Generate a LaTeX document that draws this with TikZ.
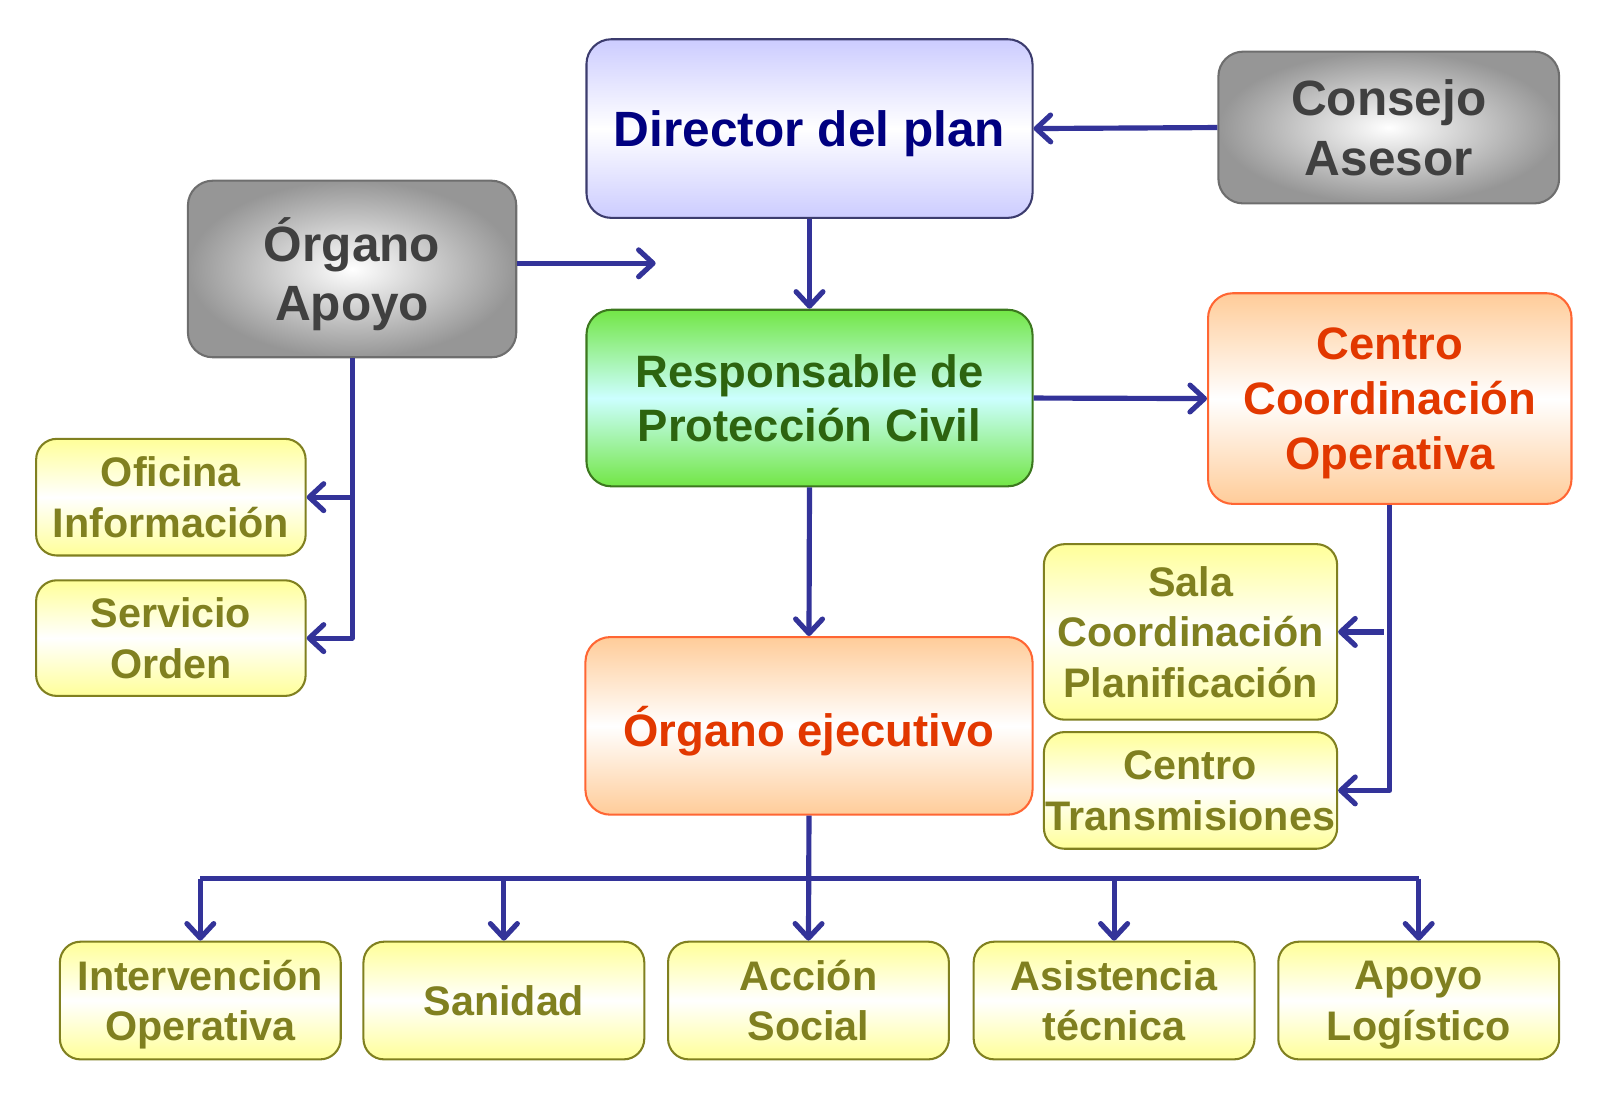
\documentclass[tikz,border=0pt]{standalone}
\usepackage{fontspec}
\setmainfont{Liberation Sans}
\usetikzlibrary{arrows.meta,positioning,calc}

\definecolor{flowblue}{RGB}{51,51,153}
\definecolor{plantext}{RGB}{0,0,128}
\definecolor{planfill}{RGB}{204,204,255}
\definecolor{planline}{RGB}{60,60,110}
\definecolor{greytext}{RGB}{64,64,64}
\definecolor{greyfill}{RGB}{150,150,150}
\definecolor{greyline}{RGB}{110,110,110}
\definecolor{leadtext}{RGB}{45,100,15}
\definecolor{leadfill}{RGB}{115,230,70}
\definecolor{leadmid}{RGB}{204,255,255}
\definecolor{leadline}{RGB}{60,120,30}
\definecolor{optext}{RGB}{226,56,0}
\definecolor{opfill}{RGB}{255,204,153}
\definecolor{opline}{RGB}{255,102,51}
\definecolor{unittext}{RGB}{128,128,32}
\definecolor{unitfill}{RGB}{255,255,153}
\definecolor{unitline}{RGB}{128,128,32}

\tikzset{
  every node/.style={
    align=center,
    inner sep=0pt,
    text depth=0pt
  },
  dims/.style 2 args={
    minimum width=#1,
    minimum height=#2
  },
  plan/.style={
    shape=rectangle,
    rounded corners=12pt,
    draw=planline,
    line width=1pt,
    top color=planfill,
    bottom color=planfill,
    middle color=white,
    text=plantext,
    font=\fontsize{24}{29}\selectfont\bfseries
  },
  advisor/.style={
    shape=rectangle,
    rounded corners=12pt,
    draw=greyline,
    line width=1pt,
    inner color=white,
    outer color=greyfill,
    text=greytext,
    font=\fontsize{24}{29}\selectfont\bfseries
  },
  manager/.style={
    shape=rectangle,
    rounded corners=12pt,
    draw=leadline,
    line width=1pt,
    top color=leadfill,
    bottom color=leadfill,
    middle color=leadmid,
    text=leadtext,
    font=\fontsize{22}{26.5}\selectfont\bfseries
  },
  operative/.style={
    shape=rectangle,
    rounded corners=12pt,
    draw=opline,
    line width=1pt,
    top color=opfill,
    bottom color=opfill,
    middle color=white,
    text=optext,
    font=\fontsize{22}{26.5}\selectfont\bfseries
  },
  unit/.style={
    shape=rectangle,
    rounded corners=10pt,
    draw=unitline,
    line width=1pt,
    top color=unitfill,
    bottom color=unitfill,
    middle color=white,
    text=unittext,
    font=\fontsize{20}{24.5}\selectfont\bfseries
  },
  link/.style={
    draw=flowblue,
    line width=2.5pt,
    line join=round
  },
  flow/.style={
    link,
    -{Straight Barb[length=7pt,width=13pt,line width=2.5pt,round]}
  }
}

\begin{document}
\begin{tikzpicture}[x=0.5pt,y=-0.5pt]
  \useasboundingbox (0,0) rectangle (1568,1073);

  \node [plan, dims={216pt}{86.5pt}] (director) at (784,124.5) {Director del plan};
  \node [advisor, dims={165pt}{73.5pt}] (consejo) at (1345,123.5) {Consejo\\Asesor};
  \node [advisor, dims={159pt}{85.5pt}] (apoyo) at (341,260.5) {Órgano\\Apoyo};
  \node [manager, dims={216pt}{85.5pt}] (responsable) at (784,385.5) {Responsable de\\Protección Civil};
  \node [operative, dims={176pt}{102pt}] (centro) at (1346,386) {Centro\\Coordinación\\Operativa};
  \node [operative, dims={216.5pt}{86pt}] (ejecutivo) at (783.5,703) {Órgano ejecutivo};

  \node [unit, dims={130.5pt}{56.5pt}] (oficina) at (165.5,481.5) {Oficina\\Información};
  \node [unit, dims={130.5pt}{56pt}] (servicio) at (165.5,618) {Servicio\\Orden};
  \node [unit, dims={142pt}{85pt}] (sala) at (1153,612) {Sala\\Coordinación\\Planificación};
  \node [unit, dims={142pt}{56.5pt}] (transmisiones) at (1153,765.5) {Centro\\Transmisiones};

  % grupos de accion
  \foreach \x/\name/\txt in {194/intervencion/{Intervención\\Operativa},
                             488/sanidad/{Sanidad},
                             783/accion/{Acción\\Social},
                             1079/asistencia/{Asistencia\\técnica},
                             1374/logistico/{Apoyo\\Logístico}}
    \node [unit, dims={136pt}{57pt}] (\name) at (\x,969) {\txt};

  \coordinate (apoyofin) at (635,255);
  \coordinate (bus) at (783,851);

  \draw [flow] (consejo.west) -- (director.east);
  \draw [flow] (apoyo.east |- apoyofin) -- (apoyofin);
  \draw [flow] (director.south) -- (responsable.north);
  \draw [flow] (responsable.east) -- (centro.west);
  \draw [flow] (responsable.south) -- (ejecutivo.north);

  \draw [flow] (apoyo.south) |- (servicio.east);
  \draw [flow] (apoyo.south |- oficina.east) -- (oficina.east);

  \draw [flow] (centro.south) |- (transmisiones.east);
  \draw [flow] ($(centro.south |- sala.east)+(-6,0)$) -- (sala.east);

  \draw [flow] (ejecutivo.south) -- (accion.north);
  \draw [link] (intervencion.north |- bus) -- (logistico.north |- bus);
  \foreach \name in {intervencion,sanidad,asistencia,logistico}
    \draw [flow] (\name.north |- bus) -- (\name.north);
\end{tikzpicture}
\end{document}
